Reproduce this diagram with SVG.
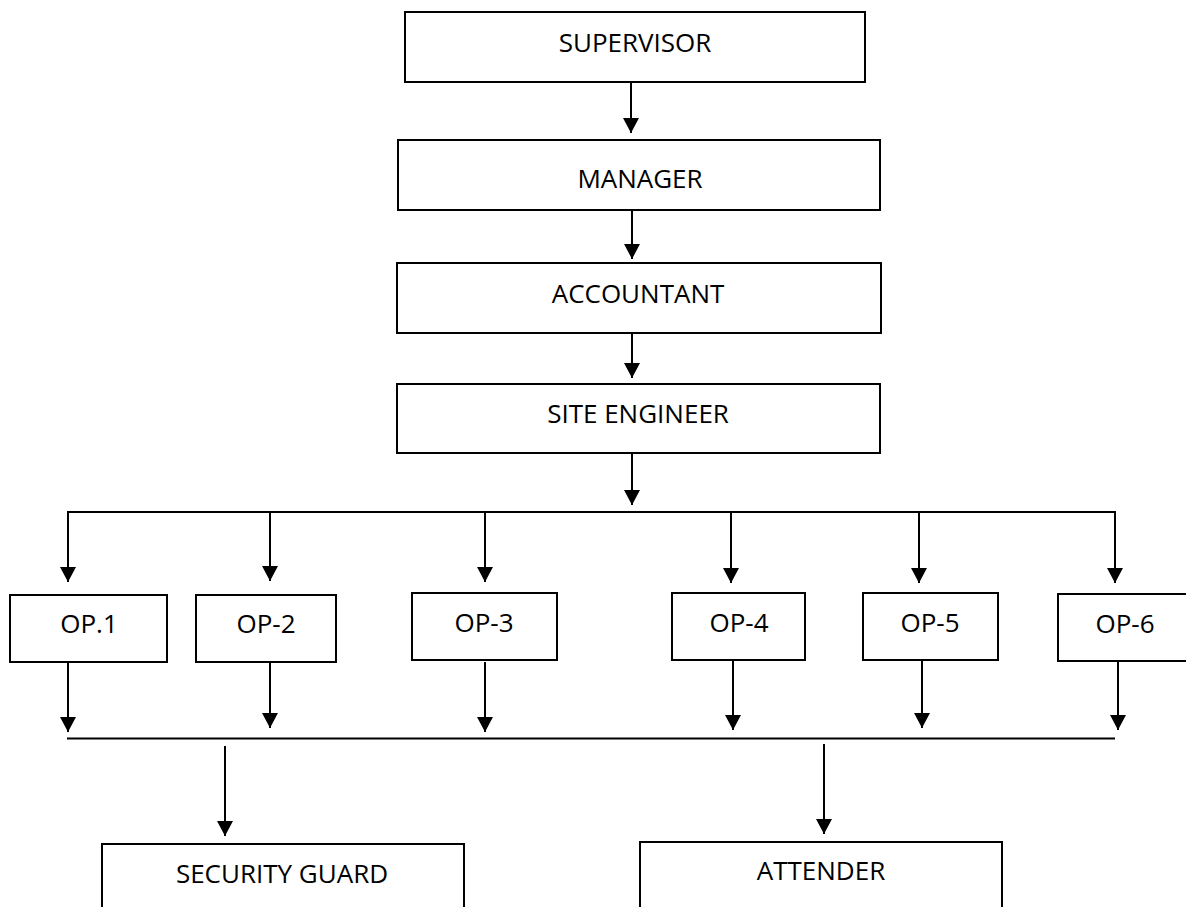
<svg xmlns="http://www.w3.org/2000/svg" width="1186" height="907" viewBox="0 0 1186 907">
<style>
.box{fill:#fff;stroke:#000;stroke-width:2}
.lbl{font-family:"Open Sans","Noto Sans","Liberation Sans",sans-serif;font-size:26px;fill:#000;text-anchor:middle}
.ln{stroke:#000;stroke-width:2;fill:none}
.ar{stroke:#000;stroke-width:2;fill:none;marker-end:url(#ah)}
</style>
<defs>
<marker id="ah" markerUnits="userSpaceOnUse" viewBox="0 0 15 16" refX="15" refY="8" markerWidth="15" markerHeight="16" orient="auto">
<path d="M0,0 L15,8 L0,16 z" fill="#000"/>
</marker>
</defs>
<rect width="1186" height="907" fill="#fff"/>
<g id="connectors">
<line class="ar" x1="631" y1="82" x2="631" y2="133"/>
<line class="ar" x1="632" y1="210" x2="632" y2="259"/>
<line class="ar" x1="632" y1="333" x2="632" y2="378"/>
<line class="ar" x1="632" y1="453" x2="632" y2="505"/>
<line class="ln" x1="67" y1="512" x2="1116" y2="512"/>
<line class="ar" x1="68" y1="512" x2="68" y2="582"/>
<line class="ar" x1="270" y1="512" x2="270" y2="581"/>
<line class="ar" x1="485" y1="512" x2="485" y2="582"/>
<line class="ar" x1="731" y1="512" x2="731" y2="583"/>
<line class="ar" x1="919" y1="512" x2="919" y2="583"/>
<line class="ar" x1="1115" y1="512" x2="1115" y2="583"/>
<line class="ar" x1="68" y1="662" x2="68" y2="732"/>
<line class="ar" x1="270" y1="658" x2="270" y2="728"/>
<line class="ar" x1="485" y1="662" x2="485" y2="732"/>
<line class="ar" x1="733" y1="660" x2="733" y2="730"/>
<line class="ar" x1="922" y1="658" x2="922" y2="728"/>
<line class="ar" x1="1118" y1="661" x2="1118" y2="730"/>
<line class="ln" x1="67" y1="738.5" x2="1115" y2="738.5"/>
<line class="ar" x1="225" y1="746" x2="225" y2="836"/>
<line class="ar" x1="824" y1="744" x2="824" y2="834"/>
</g>
<g id="supervisor"><rect class="box" x="405" y="12" width="460" height="70"/><text class="lbl" x="635" y="52">SUPERVISOR</text></g>
<g id="manager"><rect class="box" x="398" y="140" width="482" height="70"/><text class="lbl" x="640" y="188">MANAGER</text></g>
<g id="accountant"><rect class="box" x="397" y="263" width="484" height="70"/><text class="lbl" x="638" y="303">ACCOUNTANT</text></g>
<g id="site-engineer"><rect class="box" x="397" y="384" width="483" height="69"/><text class="lbl" x="638" y="423">SITE ENGINEER</text></g>
<g id="op1"><rect class="box" x="10" y="595" width="157" height="67"/><text class="lbl" x="89" y="633">OP.1</text></g>
<g id="op2"><rect class="box" x="196" y="595" width="140" height="67"/><text class="lbl" x="266" y="633">OP-2</text></g>
<g id="op3"><rect class="box" x="412" y="593" width="145" height="67"/><text class="lbl" x="484" y="632">OP-3</text></g>
<g id="op4"><rect class="box" x="672" y="593" width="133" height="67"/><text class="lbl" x="739" y="632">OP-4</text></g>
<g id="op5"><rect class="box" x="863" y="593" width="135" height="67"/><text class="lbl" x="930" y="632">OP-5</text></g>
<g id="op6"><rect class="box" x="1058" y="594" width="136" height="67"/><text class="lbl" x="1125" y="633">OP-6</text></g>
<g id="security-guard"><rect class="box" x="102" y="844" width="362" height="80"/><text class="lbl" x="282" y="883">SECURITY GUARD</text></g>
<g id="attender"><rect class="box" x="640" y="842" width="362" height="80"/><text class="lbl" x="821" y="880">ATTENDER</text></g>
</svg>
